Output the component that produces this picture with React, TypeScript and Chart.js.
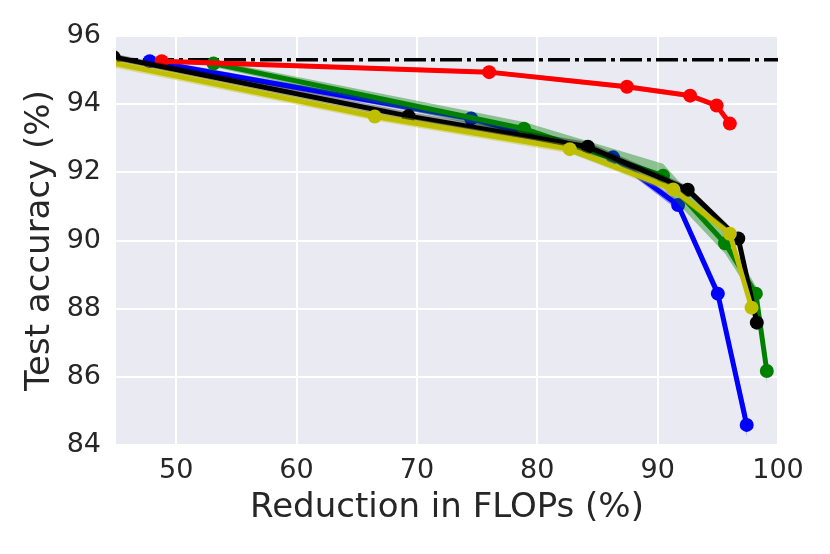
import { useEffect, useRef } from 'react';
import { Chart, registerables } from 'chart.js';

Chart.register(...registerables);

// Axis ticks
const xTicks = [50, 60, 70, 80, 90, 100];
const yTicks = [84, 86, 88, 90, 92, 94, 96];

// Baseline (dash-dot) accuracy
const baselineY = 95.3;
const baselineX = [45, 100];

// Series (x = FLOPs reduction %, y = test accuracy %, std = band half-width)
const blueX = [47.8, 74.5, 86.3, 91.7, 95.0, 97.4];
const blueY = [95.26, 93.58, 92.44, 91.04, 88.44, 84.59];
const blueStd = [0.08, 0.1, 0.1, 0.15, 0.2, 0.35];

const greenX = [53.1, 78.9, 90.45, 95.6, 98.16, 99.07];
const greenY = [95.19, 93.28, 91.9, 89.92, 88.44, 86.17];
const greenStd = [0.1, 0.2, 0.35, 0.3, 0.22, 0.35];

const redX = [48.8, 76.0, 87.45, 92.7, 94.9, 96.0];
const redY = [95.26, 94.94, 94.51, 94.25, 93.96, 93.43];
const redStd = [0.06, 0.06, 0.07, 0.08, 0.08, 0.08];

const blackX = [44.8, 69.3, 84.2, 92.5, 96.7, 98.24];
const blackY = [95.38, 93.65, 92.75, 91.49, 90.06, 87.59];
const blackStd = [0.1, 0.13, 0.14, 0.12, 0.1, 0.15];

const yellowX = [44.5, 66.5, 82.7, 91.3, 96.0, 97.8];
const yellowY = [95.22, 93.64, 92.68, 91.5, 90.2, 88.03];
const yellowStd = [0.12, 0.12, 0.12, 0.12, 0.12, 0.15];

const FONT = "'DejaVu Sans', 'Liberation Sans', sans-serif";
const TEXT = '#262626';

function seriesDatasets(
  xs: number[],
  ys: number[],
  std: number[],
  color: string,
  band: string,
  layer: number
) {
  const base = 100 - layer * 3;
  return [
    {
      data: xs.map((x, i) => ({ x, y: ys[i] + std[i] })),
      borderColor: 'rgba(0,0,0,0)',
      borderWidth: 0,
      pointRadius: 0,
      pointHoverRadius: 0,
      fill: '+1',
      backgroundColor: band,
      tension: 0,
      order: base,
      clip: 0,
    },
    {
      data: xs.map((x, i) => ({ x, y: ys[i] - std[i] })),
      borderColor: 'rgba(0,0,0,0)',
      borderWidth: 0,
      pointRadius: 0,
      pointHoverRadius: 0,
      fill: false,
      tension: 0,
      order: base + 1,
      clip: 0,
    },
    {
      data: xs.map((x, i) => ({ x, y: ys[i] })),
      borderColor: color,
      borderWidth: 5,
      pointRadius: 7,
      pointBackgroundColor: color,
      pointBorderColor: color,
      pointBorderWidth: 0,
      fill: false,
      tension: 0,
      order: base - 2,
      clip: 0,
    },
  ];
}

const bgPlugin = {
  id: 'plotBg',
  beforeDraw(chart: any) {
    const { ctx, chartArea } = chart;
    ctx.save();
    ctx.fillStyle = '#ffffff';
    ctx.fillRect(0, 0, chart.width, chart.height);
    ctx.fillStyle = '#EAEAF2';
    ctx.fillRect(chartArea.left, chartArea.top, chartArea.right - chartArea.left, chartArea.bottom - chartArea.top);
    ctx.restore();
  },
};

export default function App() {
  const ref = useRef<HTMLCanvasElement>(null);
  useEffect(() => {
    const datasets: any[] = [
      {
        data: baselineX.map((x) => ({ x, y: baselineY })),
        borderColor: '#000000',
        borderWidth: 3.5,
        borderDash: [22, 5, 4, 5],
        pointRadius: 0,
        fill: false,
        order: 200,
        clip: 0,
      },
      ...seriesDatasets(blueX, blueY, blueStd, 'rgb(0,0,255)', 'rgba(0,0,255,0.4)', 0),
      ...seriesDatasets(greenX, greenY, greenStd, 'rgb(0,128,0)', 'rgba(0,128,0,0.4)', 1),
      ...seriesDatasets(redX, redY, redStd, 'rgb(255,0,0)', 'rgba(255,0,0,0.4)', 2),
      ...seriesDatasets(blackX, blackY, blackStd, 'rgb(0,0,0)', 'rgba(0,0,0,0.35)', 3),
      ...seriesDatasets(yellowX, yellowY, yellowStd, 'rgb(191,191,0)', 'rgba(191,191,0,0.4)', 4),
    ];
    const chart = new Chart(ref.current as HTMLCanvasElement, {
      type: 'line',
      data: { datasets },
      plugins: [bgPlugin],
      options: {
        animation: false,
        responsive: false,
        devicePixelRatio: 1,
        layout: { padding: { left: 0, right: 52, top: 36, bottom: 0 } },
        plugins: { legend: { display: false }, tooltip: { enabled: false } },
        scales: {
          x: {
            type: 'linear',
            min: 45,
            max: 100,
            afterBuildTicks: (scale: any) => {
              scale.ticks = xTicks.map((v) => ({ value: v }));
            },
            afterFit: (scale: any) => {
              scale.height = 109;
            },
            grid: { color: '#ffffff', lineWidth: 2, drawTicks: false },
            border: { display: false },
            ticks: { color: TEXT, font: { family: FONT, size: 27 }, padding: 10, maxRotation: 0 },
            title: {
              display: true,
              text: 'Reduction in FLOPs (%)',
              color: TEXT,
              font: { family: FONT, size: 34 },
              padding: { top: 0, bottom: 25 },
            },
          },
          y: {
            type: 'linear',
            min: 84,
            max: 96,
            afterBuildTicks: (scale: any) => {
              scale.ticks = yTicks.map((v) => ({ value: v }));
            },
            afterFit: (scale: any) => {
              scale.width = 116;
            },
            grid: { color: '#ffffff', lineWidth: 2, drawTicks: false },
            border: { display: false },
            ticks: { color: TEXT, font: { family: FONT, size: 27 }, padding: 15 },
            title: {
              display: true,
              text: 'Test accuracy (%)',
              color: TEXT,
              font: { family: FONT, size: 34 },
              padding: { top: 20, bottom: 0 },
            },
          },
        },
      } as any,
    });
    return () => chart.destroy();
  }, []);
  return (
    <div style={{ position: 'absolute', left: 0, top: 0, width: 830, height: 554 }}>
      <canvas ref={ref} width={830} height={554} style={{ display: 'block', width: 830, height: 554 }} />
    </div>
  );
}
